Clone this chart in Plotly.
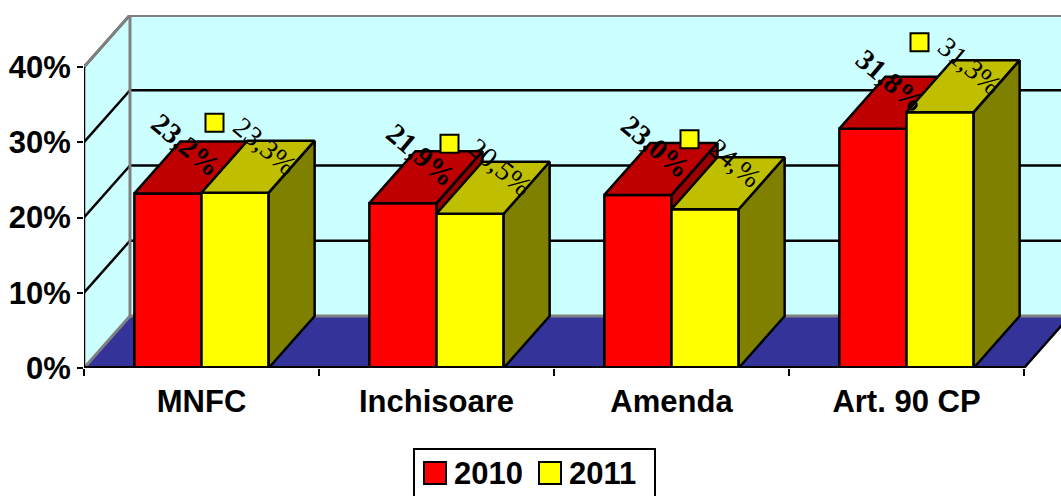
#!/usr/bin/env python3
# -*- coding: utf-8 -*-
import plotly.graph_objects as go

categories = ["MNFC", "Inchisoare", "Amenda", "Art. 90 CP"]
series_names = ["2010", "2011"]
values_2010 = [23.2, 21.9, 23.0, 31.8]
values_2011 = [23.3, 20.5, 21.1, 34.0]
labels_2010 = ["23,2%", "21,9%", "23,0%", "31,8%"]
labels_2011 = ["23,3%", "20,5%", "24,%", "31,3%"]
y_ticks = [0, 10, 20, 30, 40]
y_tick_labels = ["0%", "10%", "20%", "30%", "40%"]

# page geometry, pixels
W, H = 1061, 496
LEFT, TOP, BOTTOM = 84, 15, 128
PX_PER_X = 235.0
PX_PER_Y = 7.525

# fake 3D: how far the depth edge runs, in axis units
DX = 46 / PX_PER_X
DY = 52 / PX_PER_Y
BAR_W = 2 / 7
X_MAX = (W - LEFT) / PX_PER_X
Y_MAX = (H - BOTTOM - TOP) / PX_PER_Y
N = len(categories)
Y_TOP = y_ticks[-1]

WALL = "#CCFFFF"
FLOOR = "#333399"
GREY = "#808080"
EDGE = 2.5


def poly_path(pts):
    return "M " + " L ".join(f"{x},{y}" for x, y in pts) + " Z"


def wall_shape(pts, fill, line_color=None, line_w=0):
    return dict(type="path", path=poly_path(pts), xref="x", yref="y", layer="below",
                fillcolor=fill, line=dict(color=line_color or fill, width=line_w))


def seg(x0, y0, x1, y1, color="black", width=EDGE):
    return dict(type="line", x0=x0, y0=y0, x1=x1, y1=y1, xref="x", yref="y", layer="below",
                line=dict(color=color, width=width))


def face(xs, ys, color, xa, ya):
    return go.Scatter(x=xs + xs[:1], y=ys + ys[:1], mode="lines", fill="toself", fillcolor=color,
                      line=dict(color="black", width=EDGE), hoverinfo="skip", showlegend=False,
                      xaxis=xa, yaxis=ya)


def bar_series(values, name, offset, front, top, side, xa, ya):
    # front from a real bar, then the top and side faces on the same axes
    traces = [go.Bar(x=[i + 0.5 for i in range(N)], y=values, width=BAR_W, offset=offset, name=name,
                     marker=dict(color=front, line=dict(color="black", width=EDGE)),
                     showlegend=False, xaxis=xa, yaxis=ya)]
    for i, v in enumerate(values):
        x0 = i + 0.5 + offset
        x1 = x0 + BAR_W
        traces.append(face([x1, x1 + DX, x1 + DX, x1], [0, DY, v + DY, v], side, xa, ya))
        traces.append(face([x0, x1, x1 + DX, x0 + DX], [v, v, v + DY, v + DY], top, xa, ya))
    return traces


fig = go.Figure()

for t in bar_series(values_2010, series_names[0], -BAR_W, "#FF0000", "#BF0000", "#990000", "x", "y"):
    fig.add_trace(t)
# second series sits on an overlaying axis pair, so it paints over the first one
for t in bar_series(values_2011, series_names[1], 0, "#FFFF00", "#BFBF00", "#808000", "x2", "y2"):
    fig.add_trace(t)

# axis lines
fig.add_trace(go.Scatter(x=[0, 0], y=[0, Y_TOP], mode="lines", line=dict(color="black", width=EDGE),
                         hoverinfo="skip", showlegend=False, xaxis="x2", yaxis="y2"))
fig.add_trace(go.Scatter(x=[0, N], y=[0, 0], mode="lines", line=dict(color="black", width=4),
                         hoverinfo="skip", showlegend=False, xaxis="x2", yaxis="y2", cliponaxis=False))

# legend keys that go with the 2011 data labels
LABEL_DX = 63 / PX_PER_X
key_x = [i + 0.5 + LABEL_DX - (25 + 5 * len(s)) / PX_PER_X for i, s in enumerate(labels_2011)]
key_y = [v + 70 / PX_PER_Y for v in values_2011]
fig.add_trace(go.Scatter(x=key_x, y=key_y, mode="markers", hoverinfo="skip", showlegend=False,
                         marker=dict(symbol="square", size=18, color="#FFFF00",
                                     line=dict(color="black", width=2)),
                         xaxis="x2", yaxis="y2"))

# walls and floor
shapes = [
    wall_shape([(DX, DY), (X_MAX + 1, DY), (X_MAX + 1, Y_TOP + DY), (DX, Y_TOP + DY)], WALL),
    wall_shape([(0, 0), (DX, DY), (DX, Y_TOP + DY), (0, Y_TOP)], WALL),
    wall_shape([(0, 0), (N, 0), (N + DX, DY), (DX, DY)], FLOOR),
]
for v in y_ticks[1:]:
    shapes.append(seg(0, v, DX, v + DY))
    if v < Y_TOP:
        shapes.append(seg(DX, v + DY, X_MAX, v + DY))
shapes += [
    seg(0, 0, DX, DY, GREY, 3),
    seg(DX, DY, DX, Y_TOP + DY, GREY, 3),
    seg(DX, DY, X_MAX, DY, GREY, 3),
    seg(0, Y_TOP, DX, Y_TOP + DY, GREY, 3),
    seg(DX, Y_TOP + DY, X_MAX, Y_TOP + DY, GREY, 4),
    seg(N, 0, N + DX, DY),
]


def px(x):
    return (x - LEFT) / (W - LEFT)


def py(y):
    return (H - BOTTOM - y) / (H - BOTTOM - TOP)


# drawn legend: the native one caps its markers well below this size
LEG_FONT = dict(family="Liberation Sans", size=31, color="black", weight=700)
shapes.append(dict(type="rect", xref="paper", yref="paper", x0=px(414), x1=px(655), y0=py(510), y1=py(449),
                   fillcolor="white", line=dict(color="black", width=2), layer="above"))
annotations = []
for x_key, x_text, name, color in [(424, 488, series_names[0], "#FF0000"), (539, 602, series_names[1], "#FFFF00")]:
    shapes.append(dict(type="rect", xref="paper", yref="paper", x0=px(x_key), x1=px(x_key + 22), y0=py(484), y1=py(462),
                       fillcolor=color, line=dict(color="black", width=2), layer="above"))
    annotations.append(dict(text=name, xref="paper", yref="paper", x=px(x_text), y=py(473), xanchor="center",
                            yanchor="middle", showarrow=False, font=LEG_FONT))

# rotated data labels
for i in range(N):
    annotations.append(dict(text=labels_2010[i], x=i + 0.5 - BAR_W, y=values_2010[i], xref="x", yref="y",
                            xshift=52, yshift=48, textangle=40, showarrow=False, xanchor="center", yanchor="middle",
                            font=dict(family="Liberation Serif", size=29, color="black", weight=700)))
    annotations.append(dict(text=labels_2011[i], x=i + 0.5, y=values_2011[i], xref="x", yref="y",
                            xshift=63, yshift=47, textangle=40, showarrow=False, xanchor="center", yanchor="middle",
                            font=dict(family="Liberation Serif", size=28, color="black")))

TICK_FONT = dict(family="Liberation Sans", size=31, color="black", weight=700)
fig.update_layout(
    width=W, height=H, autosize=False,
    margin=dict(l=LEFT, r=0, t=TOP, b=BOTTOM, pad=0),
    paper_bgcolor="white", plot_bgcolor="white",
    showlegend=False, shapes=shapes, annotations=annotations,
    xaxis=dict(range=[0, X_MAX], tickmode="array", tickvals=[i + 0.5 for i in range(N)], ticktext=categories,
               ticks="", showgrid=False, zeroline=False, showline=False, tickfont=TICK_FONT,
               ticklabelstandoff=12,
               minor=dict(tickmode="array", tickvals=list(range(N + 1)), ticks="outside", ticklen=7,
                          tickwidth=2, tickcolor="black", showgrid=False)),
    yaxis=dict(range=[0, Y_MAX], tickmode="array", tickvals=y_ticks, ticktext=y_tick_labels, ticks="outside",
               ticklen=6, tickwidth=2, tickcolor="black", showgrid=False, zeroline=False, showline=False,
               tickfont=TICK_FONT),
    xaxis2=dict(range=[0, X_MAX], overlaying="x", visible=False),
    yaxis2=dict(range=[0, Y_MAX], overlaying="y", visible=False),
)

fig.write_html("out.html", config=dict(displayModeBar=False),
               post_script="document.body.style.margin='0';document.body.style.overflow='hidden';")
